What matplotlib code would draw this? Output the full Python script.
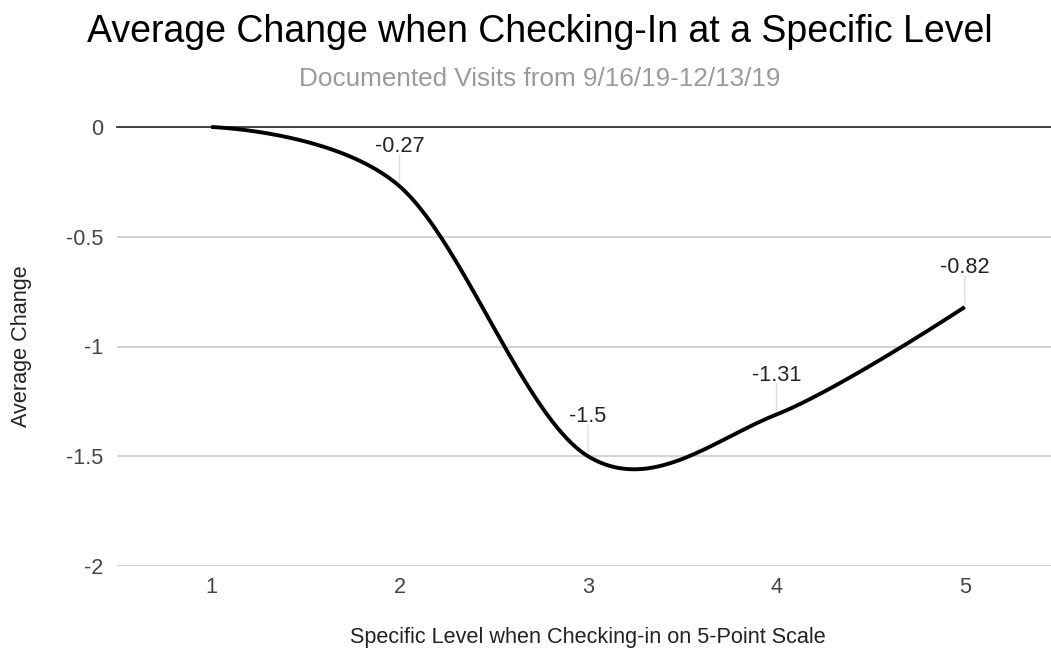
import numpy as np
import matplotlib
matplotlib.use("Agg")
import matplotlib.pyplot as plt

plt.rcParams['font.family'] = ['Liberation Sans', 'DejaVu Sans']

levels = [1, 2, 3, 4, 5]
avg_change = [0.0, -0.27, -1.5, -1.31, -0.82]
labelled = [False, True, True, True, True]
y_ticks = [0, -0.5, -1, -1.5, -2]
y_tick_labels = ["0", "-0.5", "-1", "-1.5", "-2"]

title = "Average Change when Checking-In at a Specific Level"
subtitle = "Documented Visits from 9/16/19-12/13/19"
x_title = "Specific Level when Checking-in on 5-Point Scale"
y_title = "Average Change"


def smooth_curve(xs, ys, n=80):
    """Piecewise cubic Bezier through the points; interior control points
    follow the neighbouring chord, end control points sit on the ends."""
    p = np.column_stack([np.asarray(xs, float), np.asarray(ys, float)])
    k = len(p)
    out = []
    for i in range(k - 1):
        p0, p3 = p[i], p[i + 1]
        c1 = p0 + (p[i + 1] - p[i - 1]) / 6 if i > 0 else p0
        c2 = p3 - (p[i + 2] - p[i]) / 6 if i + 2 < k else p3
        t = np.linspace(0, 1, n, endpoint=(i == k - 2))[:, None]
        seg = ((1 - t) ** 3) * p0 + 3 * ((1 - t) ** 2) * t * c1 \
            + 3 * (1 - t) * t ** 2 * c2 + t ** 3 * p3
        out.append(seg)
    out = np.vstack(out)
    return out[:, 0], out[:, 1]


fig = plt.figure(figsize=(10.51, 6.56), dpi=100)
W, H = 1051, 656
left, right, top, bottom = 117, 1059, 127, 566
ax = fig.add_axes([left / W, 1 - bottom / H, (right - left) / W, (bottom - top) / H])

ax.set_xlim(0.5, 5.5)
ax.set_ylim(-2, 0)

# gridlines and baseline
for v in y_ticks:
    if v == 0:
        continue
    ax.axhline(v, color="#cccccc", lw=1.2, zorder=1)
ax.axhline(0, color="#333333", lw=1.3, zorder=2, clip_on=False)

sx, sy = smooth_curve(levels, avg_change)
ax.plot(sx, sy, color="#000000", lw=2.8, zorder=4, clip_on=False,
        solid_capstyle="butt")

# value labels with leader lines
px = 72 / 100
for x, y, show in zip(levels, avg_change, labelled):
    if not show:
        continue
    ax.annotate("", xy=(x, y), xytext=(0, 31 * px), textcoords="offset points",
                xycoords="data",
                arrowprops=dict(arrowstyle="-", color="#dddddd", lw=1,
                                shrinkA=0, shrinkB=4 * px), zorder=3)
    ax.annotate(f"{y:g}", xy=(x, y), xytext=(0, 34 * px),
                textcoords="offset points", ha="center", va="baseline",
                fontsize=15.6, color="#222222", zorder=5)

ax.set_xticks(levels)
ax.set_xticklabels([str(v) for v in levels])
ax.set_yticks(y_ticks)
ax.set_yticklabels(y_tick_labels)
ax.tick_params(axis="both", length=0, labelsize=15.6, colors="#444444")
ax.tick_params(axis="y", pad=14 * px)
ax.tick_params(axis="x", pad=11 * px)
for s in ax.spines.values():
    s.set_visible(False)

title_x = 540 / W
fig.text(title_x, 1 - 32 / H, title, ha="center", va="center", fontsize=27, color="#000000")
fig.text(title_x, 1 - 79 / H, subtitle, ha="center", va="center", fontsize=18.8, color="#9a9a9a")
fig.text((left + right) / 2 / W, 1 - 638 / H, x_title, ha="center", va="center",
         fontsize=15.6, color="#222222")
fig.text(22 / W, 1 - 346 / H, y_title, ha="center", va="center", rotation=90,
         fontsize=15.6, color="#222222")

fig.savefig("out.png", dpi=100, facecolor="white")
